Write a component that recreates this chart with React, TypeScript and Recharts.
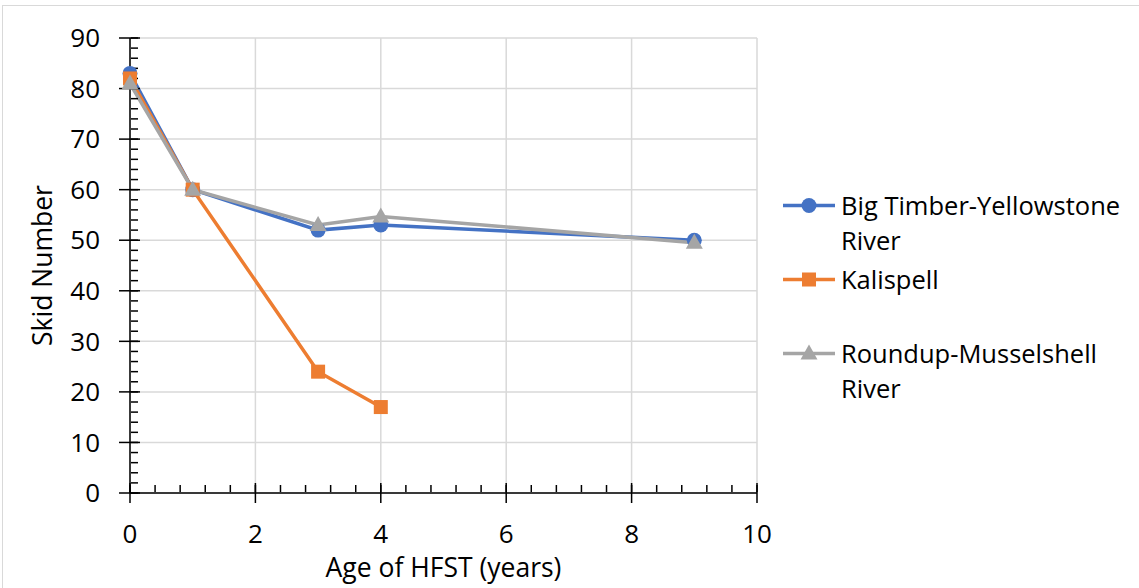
import React from 'react';
import { LineChart, Line, XAxis, YAxis, CartesianGrid, Legend } from 'recharts';

// skid number readings by age of the HFST surface (years)
const ages = [0, 1, 3, 4, 9];
const bigTimber = [83, 60, 52, 53, 50];
const kalispell = [82, 60, 24, 17, null];
const roundup = [81, 60, 53, 54.7, 49.5];

const xMajorTicks = [0, 2, 4, 6, 8, 10];
const yMajorTicks = [0, 10, 20, 30, 40, 50, 60, 70, 80, 90];
const xMinorTicks = Array.from({ length: 26 }, (_, i) => +(i * 0.4).toFixed(1));
const yMinorTicks = Array.from({ length: 46 }, (_, i) => i * 2);

const FONT = '"Open Sans", "Liberation Sans", sans-serif';
const BLUE = '#4472C4';
const ORANGE = '#ED7D31';
const GRAY = '#A5A5A5';

const data = ages.map((age, i) => ({
  age,
  bigTimber: bigTimber[i],
  kalispell: kalispell[i],
  roundup: roundup[i],
}));

type Shape = 'circle' | 'square' | 'triangle';

const marker = (shape: Shape, color: string, cx: number, cy: number, key?: string) => {
  if (shape === 'circle') return <circle key={key} cx={cx} cy={cy} r={7.5} fill={color} />;
  if (shape === 'square') return <rect key={key} x={cx - 7} y={cy - 7} width={14} height={14} fill={color} />;
  return (
    <polygon
      key={key}
      points={`${cx},${cy - 9} ${cx + 8.5},${cy + 6} ${cx - 8.5},${cy + 6}`}
      fill={color}
    />
  );
};

const makeDot = (shape: Shape, color: string) => (props: any) => {
  const { cx, cy, value, index } = props;
  if (cx == null || cy == null || value == null) return <g key={`dot-${index}`} />;
  return marker(shape, color, cx, cy, `dot-${index}`);
};

const series = [
  { key: 'bigTimber', lines: ['Big Timber-Yellowstone', 'River'], color: BLUE, shape: 'circle' as Shape },
  { key: 'kalispell', lines: ['Kalispell'], color: ORANGE, shape: 'square' as Shape },
  { key: 'roundup', lines: ['Roundup-Musselshell', 'River'], color: GRAY, shape: 'triangle' as Shape },
];

const LegendContent = () => (
  <div style={{ fontFamily: FONT, fontSize: 25.5, color: '#000' }}>
    {series.map((s) => (
      <div key={s.key} style={{ display: 'flex', height: 74 }}>
        <svg width={58} height={35} style={{ flex: 'none' }}>
          <line x1={0} y1={17.5} x2={52} y2={17.5} stroke={s.color} strokeWidth={3.5} />
          {marker(s.shape, s.color, 26, 17.5)}
        </svg>
        <div style={{ lineHeight: '35px', whiteSpace: 'nowrap' }}>
          {s.lines.map((l) => (
            <div key={l}>{l}</div>
          ))}
        </div>
      </div>
    ))}
  </div>
);

const tickStyle = { fill: '#000', fontSize: 26, fontFamily: FONT };
const titleStyle = { fill: '#000', fontSize: 26.5, fontFamily: FONT };
const tickLineStyle = { stroke: '#000', strokeWidth: 1.5 };

export default function App() {
  return (
    <div style={{ position: 'relative', width: 1139, height: 588, overflow: 'hidden', background: '#fff' }}>
      <style>{'body { margin: 0; }'}</style>
      <div
        style={{
          position: 'absolute',
          left: 2,
          top: 5,
          width: 1200,
          height: 700,
          border: '1px solid #d9d9d9',
        }}
      />
      <div style={{ position: 'absolute', left: 0, top: 0 }}>
        <LineChart width={1139} height={588} data={data} margin={{ top: 38, right: 382, bottom: 5, left: 10 }}>
          <CartesianGrid stroke="#d9d9d9" strokeWidth={1.5} />
          <XAxis
            dataKey="age"
            type="number"
            domain={[0, 10]}
            ticks={xMajorTicks}
            interval={0}
            height={90}
            tickSize={10}
            tickMargin={22}
            tick={tickStyle}
            stroke="#000"
            axisLine={tickLineStyle}
            tickLine={tickLineStyle}
            label={{
              value: 'Age of HFST (years)',
              position: 'insideBottom',
              offset: 6,
              style: titleStyle,
            }}
          />
          {/* inner halves of the major ticks, and the minor ticks */}
          <XAxis
            xAxisId="xMajorIn"
            dataKey="age"
            type="number"
            domain={[0, 10]}
            allowDataOverflow
            ticks={xMajorTicks}
            interval={0}
            mirror
            height={1}
            tickSize={10}
            tickFormatter={() => ''}
            axisLine={false}
            tickLine={tickLineStyle}
          />
          <XAxis
            xAxisId="xMinor"
            dataKey="age"
            type="number"
            domain={[0, 10]}
            allowDataOverflow
            ticks={xMinorTicks}
            interval={0}
            mirror
            height={1}
            tickSize={7}
            tickFormatter={() => ''}
            axisLine={false}
            tickLine={tickLineStyle}
          />
          <YAxis
            type="number"
            domain={[0, 90]}
            ticks={yMajorTicks}
            interval={0}
            width={120}
            tickSize={11}
            tickMargin={19}
            tick={tickStyle}
            stroke="#000"
            axisLine={tickLineStyle}
            tickLine={tickLineStyle}
            label={{
              value: 'Skid Number',
              angle: -90,
              position: 'insideLeft',
              offset: 33,
              style: { ...titleStyle, textAnchor: 'middle' },
            }}
          />
          <YAxis
            yAxisId="yMajorIn"
            type="number"
            domain={[0, 90]}
            allowDataOverflow
            ticks={yMajorTicks}
            interval={0}
            mirror
            width={1}
            tickSize={10}
            tickFormatter={() => ''}
            axisLine={false}
            tickLine={tickLineStyle}
          />
          <YAxis
            yAxisId="yMinor"
            type="number"
            domain={[0, 90]}
            allowDataOverflow
            ticks={yMinorTicks}
            interval={0}
            mirror
            width={1}
            tickSize={7}
            tickFormatter={() => ''}
            axisLine={false}
            tickLine={tickLineStyle}
          />
          <Legend
            layout="vertical"
            align="center"
            verticalAlign="middle"
            wrapperStyle={{ left: 783, top: 188, width: 350 }}
            content={<LegendContent />}
          />
          {series.map((s) => (
            <Line
              key={s.key}
              type="linear"
              dataKey={s.key}
              stroke={s.color}
              strokeWidth={3.5}
              dot={makeDot(s.shape, s.color)}
              activeDot={false}
              isAnimationActive={false}
            />
          ))}
        </LineChart>
      </div>
    </div>
  );
}
